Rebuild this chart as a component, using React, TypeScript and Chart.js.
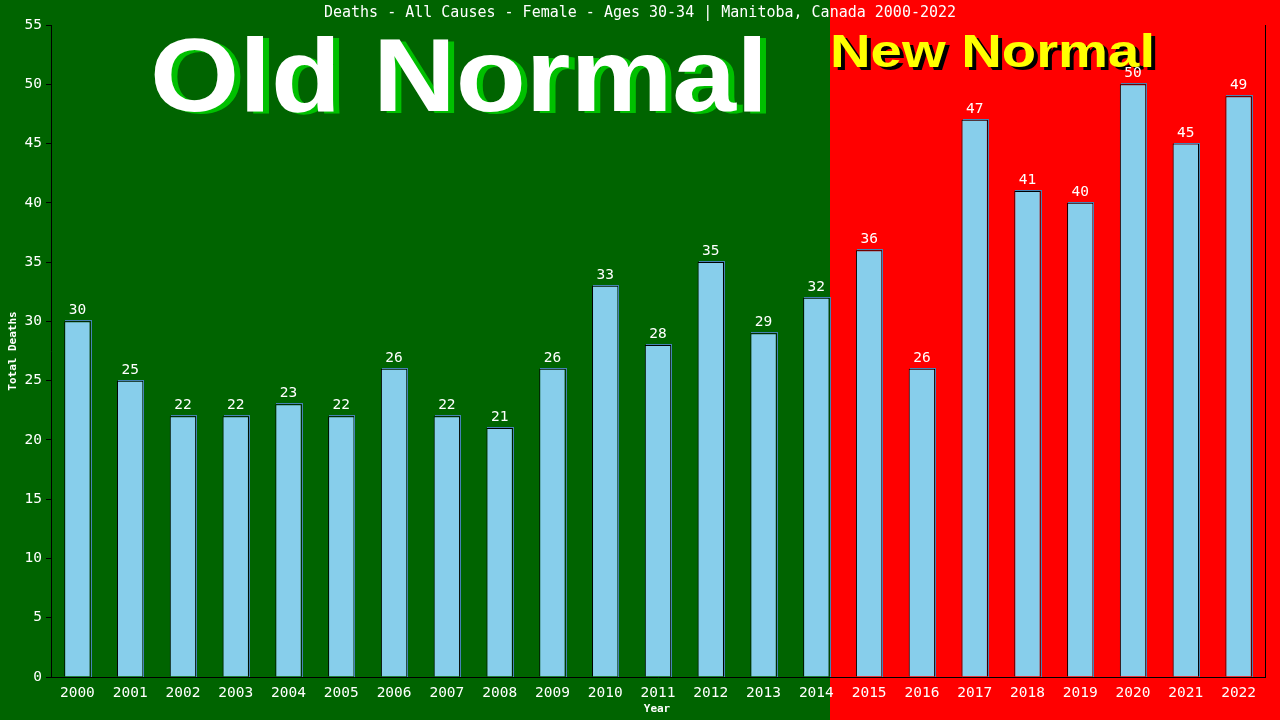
import { useEffect, useRef } from "react"
import { Chart, registerables, type Plugin } from "chart.js"

Chart.register(...registerables)

const years = [
  "2000", "2001", "2002", "2003", "2004", "2005", "2006", "2007", "2008", "2009", "2010", "2011",
  "2012", "2013", "2014", "2015", "2016", "2017", "2018", "2019", "2020", "2021", "2022",
]
const deaths = [30, 25, 22, 22, 23, 22, 26, 22, 21, 26, 33, 28, 35, 29, 32, 36, 26, 47, 41, 40, 50, 45, 49]
const lastOldIndex = 14 // 2014 is the last "Old Normal" year

const chartTitle = "Deaths - All Causes - Female - Ages 30-34 | Manitoba, Canada 2000-2022"
const MONO = "'DejaVu Sans Mono', monospace"

// draws a bold word scaled to a target width
function bigText(ctx: CanvasRenderingContext2D, text: string, x: number, y: number, size: number, width: number, fill: string, shadow: string, dx: number, dy: number) {
  ctx.save()
  ctx.font = `bold ${size}px 'Liberation Sans', Arial, sans-serif`
  ctx.textBaseline = "alphabetic"
  ctx.textAlign = "left"
  const w = ctx.measureText(text).width
  const sx = width / w
  ctx.translate(x, y)
  ctx.scale(sx, 1)
  ctx.fillStyle = shadow
  ctx.fillText(text, dx / sx, dy)
  ctx.fillStyle = fill
  ctx.fillText(text, 0, 0)
  ctx.restore()
}

const decorPlugin: Plugin<"bar"> = {
  id: "decor",
  beforeDraw(chart) {
    const { ctx, width, height } = chart
    const meta = chart.getDatasetMeta(0)
    const bar = meta.data[lastOldIndex] as any
    const split = Math.round(bar.x + bar.width / 2)

    ctx.save()
    ctx.fillStyle = "#006400"
    ctx.fillRect(0, 0, split, height)
    ctx.fillStyle = "#ff0000"
    ctx.fillRect(split, 0, width - split, height)
    ctx.restore()

    bigText(ctx, "Old Normal", 150, 111, 104, 618, "#ffffff", "#00c000", 6, 2)
    bigText(ctx, "New Normal", split, 67, 47, 325, "#ffff00", "#000000", 4, 3)

    ctx.save()
    ctx.fillStyle = "#ffffff"
    ctx.font = `15px ${MONO}`
    ctx.textAlign = "center"
    ctx.textBaseline = "middle"
    ctx.fillText(chartTitle, 640, 13)

    ctx.font = `bold 11px ${MONO}`
    ctx.fillText("Year", 657, 709)
    ctx.translate(13, 351)
    ctx.rotate(-Math.PI / 2)
    ctx.fillText("Total Deaths", 0, 0)
    ctx.restore()
  },
  afterDatasetsDraw(chart) {
    const { ctx, chartArea } = chart
    const meta = chart.getDatasetMeta(0)
    ctx.save()
    meta.data.forEach((el: any, i) => {
      const left = Math.round(el.x - el.width / 2)
      const right = Math.round(el.x + el.width / 2)
      const top = Math.round(el.y)
      // thin steel-blue shadow on top and right
      ctx.fillStyle = "#4682b4"
      ctx.fillRect(left + 1, top - 1, right - left, 1)
      ctx.fillRect(right, top - 1, 1, chartArea.bottom - top + 1)
      ctx.fillStyle = "#ffffff"
      ctx.font = `14.5px ${MONO}`
      ctx.textAlign = "center"
      ctx.textBaseline = "bottom"
      ctx.fillText(String(deaths[i]), el.x, top - 4)
    })
    // right frame line
    ctx.strokeStyle = "#000000"
    ctx.lineWidth = 1
    ctx.beginPath()
    ctx.moveTo(chartArea.right + 0.5, chartArea.top)
    ctx.lineTo(chartArea.right + 0.5, chartArea.bottom)
    ctx.stroke()
    ctx.restore()
  },
}

export default function App() {
  const chartRef = useRef<HTMLCanvasElement>(null)
  const chartInstance = useRef<Chart | null>(null)

  useEffect(() => {
    if (!chartRef.current) return
    if (chartInstance.current) chartInstance.current.destroy()
    const ctx = chartRef.current.getContext("2d")
    if (!ctx) return

    chartInstance.current = new Chart(ctx, {
      type: "bar",
      data: {
        labels: years,
        datasets: [
          {
            label: "Total Deaths",
            data: deaths,
            backgroundColor: "#87ceeb",
            borderColor: "#000000",
            borderWidth: 1,
            barPercentage: 0.5,
            categoryPercentage: 1,
          },
        ],
      },
      options: {
        responsive: false,
        devicePixelRatio: 1,
        animation: false,
        layout: { padding: { top: 25, right: 15, left: 0, bottom: 0 } },
        plugins: {
          legend: { display: false },
          title: { display: false },
          tooltip: { enabled: false },
        },
        scales: {
          x: {
            afterFit: (scale) => {
              scale.height = 43
            },
            grid: { display: false },
            border: { color: "#000000", width: 1 },
            ticks: {
              color: "#ffffff",
              font: { family: MONO, size: 14.5 },
              padding: 0,
              maxRotation: 0,
              autoSkip: false,
            },
          },
          y: {
            min: 0,
            max: 55,
            afterFit: (scale) => {
              scale.width = 51
            },
            grid: { drawOnChartArea: false, drawTicks: true, tickLength: 5, color: "#000000" },
            border: { color: "#000000", width: 1 },
            ticks: {
              stepSize: 5,
              color: "#ffffff",
              font: { family: MONO, size: 14.5 },
              padding: 4,
            },
          },
        },
      },
      plugins: [decorPlugin],
    })

    return () => {
      if (chartInstance.current) {
        chartInstance.current.destroy()
        chartInstance.current = null
      }
    }
  }, [])

  return (
    <div style={{ position: "absolute", left: 0, top: 0, width: 1280, height: 720 }}>
      <canvas ref={chartRef} width={1280} height={720} />
    </div>
  )
}
